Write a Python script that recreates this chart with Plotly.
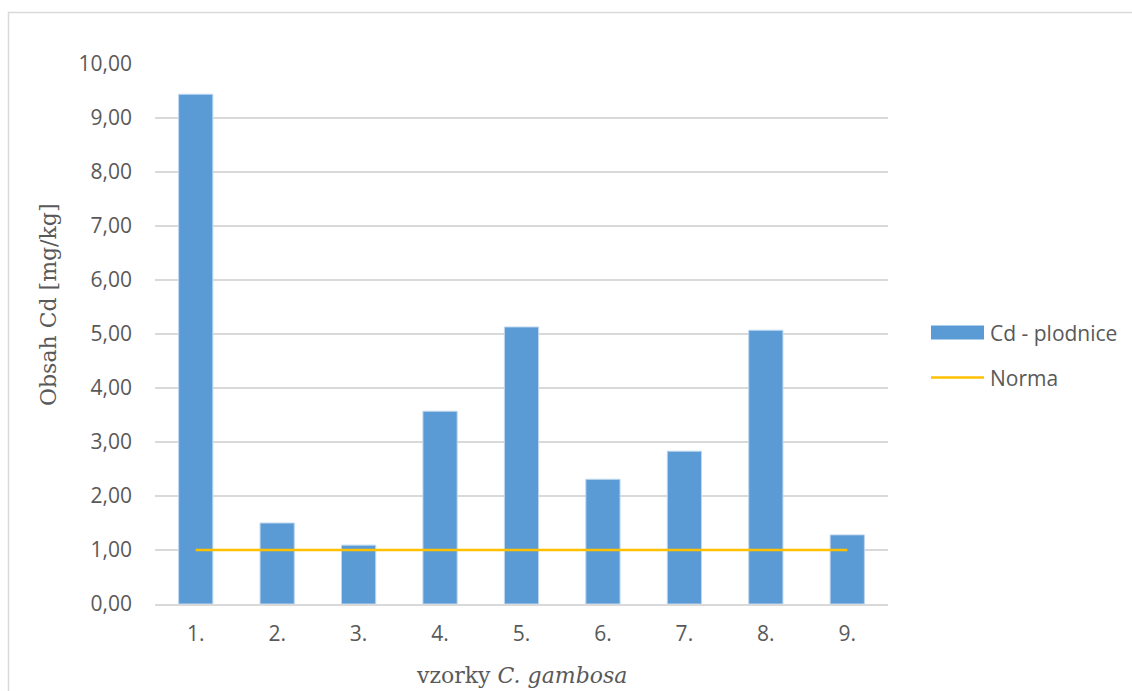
import plotly.graph_objects as go

categories = ["1.", "2.", "3.", "4.", "5.", "6.", "7.", "8.", "9."]
cd_values = [9.44, 1.50, 1.09, 3.57, 5.13, 2.31, 2.83, 5.07, 1.28]
norma_values = [1.0] * 9
y_ticks = [0, 1, 2, 3, 4, 5, 6, 7, 8, 9, 10]
y_tick_labels = ["0,00", "1,00", "2,00", "3,00", "4,00", "5,00", "6,00", "7,00", "8,00", "9,00", "10,00"]
series_names = ["Cd - plodnice", "Norma"]
bar_color = "#5B9BD5"
line_color = "#FFC000"

W, H = 1132, 691
L, R, T, B = 155, 244, 64, 87
pw, ph = W - L - R, H - T - B

def px_x(x):
    return (x - L) / pw

def px_y(y):
    return (H - B - y) / ph

fig = go.Figure()
fig.add_trace(go.Bar(
    x=categories, y=cd_values, name=series_names[0],
    marker=dict(color=bar_color, line=dict(color="#BDD7EE", width=1)),
))
fig.add_trace(go.Scatter(
    x=categories, y=norma_values, name=series_names[1], mode="lines",
    line=dict(color=line_color, width=2.5),
))

serif = "DejaVu Serif, serif"
sans = "Open Sans, sans-serif"
txt = "#595959"

annotations = [
    dict(text="vzorky <i>C. gambosa</i>", xref="paper", yref="paper",
         x=0.5, y=px_y(675), xanchor="center", yanchor="middle",
         showarrow=False, font=dict(family=serif, size=22, color=txt)),
    dict(text="Obsah Cd [mg/kg]", xref="paper", yref="paper",
         x=px_x(48), y=px_y(305), xanchor="center", yanchor="middle",
         textangle=-90, showarrow=False, font=dict(family=serif, size=22, color=txt)),
    dict(text=series_names[0], xref="paper", yref="paper",
         x=px_x(988), y=px_y(333), xanchor="left", yanchor="middle",
         showarrow=False, font=dict(family=sans, size=21, color=txt)),
    dict(text=series_names[1], xref="paper", yref="paper",
         x=px_x(988), y=px_y(378), xanchor="left", yanchor="middle",
         showarrow=False, font=dict(family=sans, size=21, color=txt)),
]

shapes = [
    dict(type="rect", xref="paper", yref="paper",
         x0=px_x(8.5), x1=px_x(1140), y0=px_y(700), y1=px_y(12.5),
         line=dict(color="#D9D9D9", width=1.5), fillcolor="rgba(0,0,0,0)",
         layer="below"),
    dict(type="rect", xref="paper", yref="paper",
         x0=px_x(931), x1=px_x(984), y0=px_y(339.5), y1=px_y(325.5),
         line=dict(width=0), fillcolor=bar_color),
    dict(type="line", xref="paper", yref="paper",
         x0=px_x(931), x1=px_x(984), y0=px_y(377.5), y1=px_y(377.5),
         line=dict(color=line_color, width=2.5)),
]

fig.update_layout(
    width=W, height=H,
    margin=dict(l=L, r=R, t=T, b=B),
    paper_bgcolor="white", plot_bgcolor="white",
    bargap=0.58,
    font=dict(family=sans, color=txt, size=21),
    showlegend=False,
    xaxis=dict(
        showgrid=False, showline=True, linecolor="#D9D9D9", linewidth=1.5,
        ticks="", tickfont=dict(size=21, color=txt), ticklabelstandoff=10,
    ),
    yaxis=dict(
        range=[0, 10], tickvals=y_ticks, ticktext=y_tick_labels,
        showgrid=True, gridcolor="#D9D9D9", gridwidth=1.5,
        zeroline=False, showline=False, ticks="",
        tickfont=dict(size=21, color=txt), ticklabelstandoff=22,
    ),
    annotations=annotations,
    shapes=shapes,
)

fig.write_html("out.html")
